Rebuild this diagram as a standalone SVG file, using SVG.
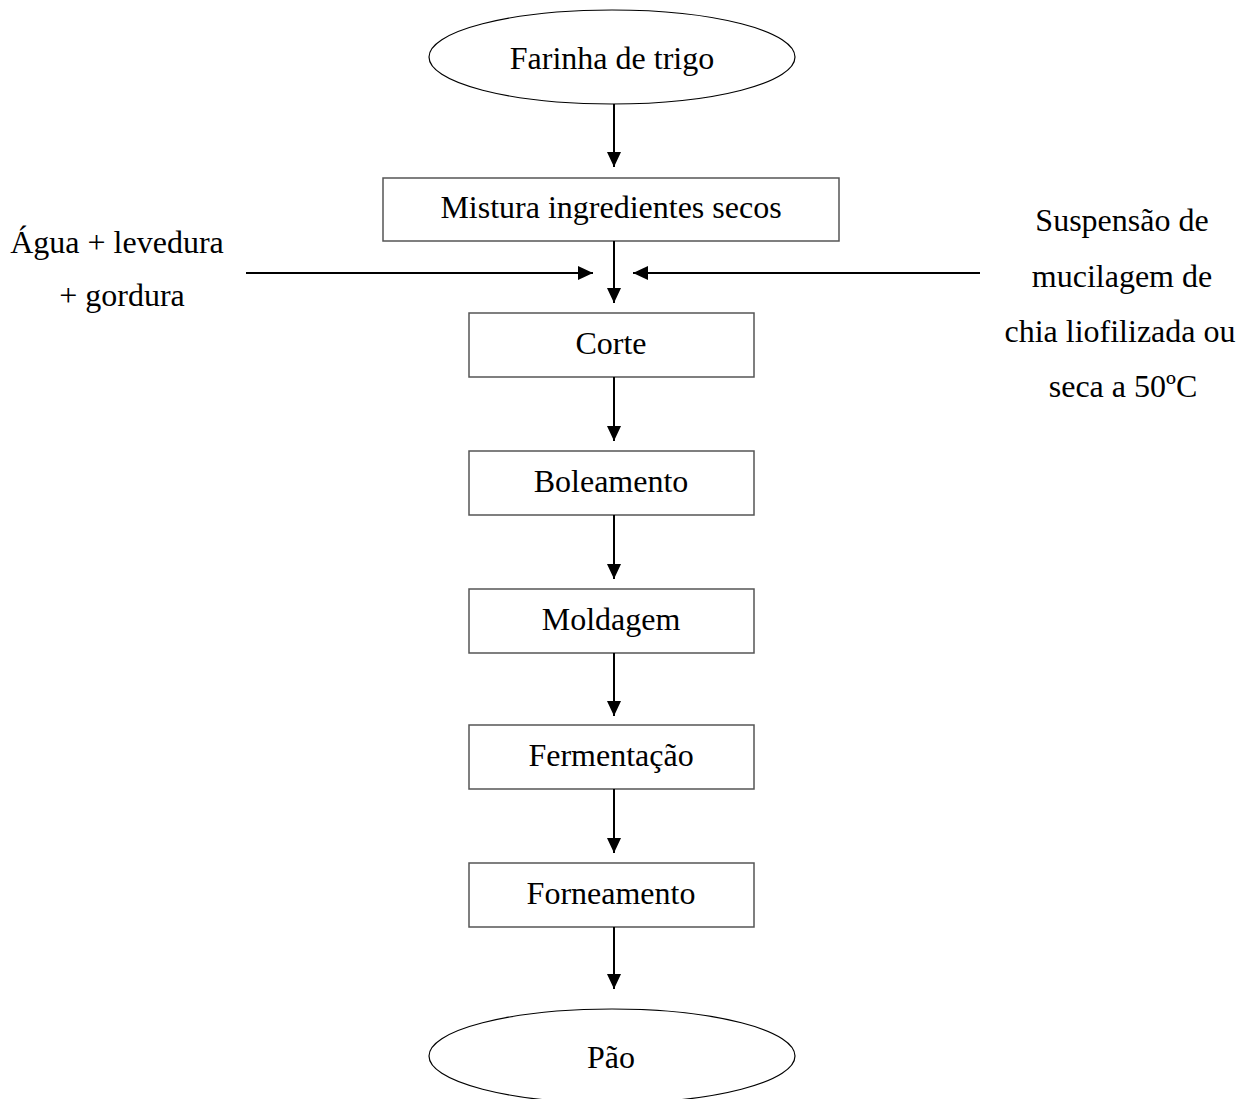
<svg xmlns="http://www.w3.org/2000/svg" width="1254" height="1099" viewBox="0 0 1254 1099">
<style>
text{font-family:"Liberation Serif","Times New Roman",serif;font-size:32px;fill:#000;text-anchor:middle}
.box{fill:#fff;stroke:#555;stroke-width:1.5}
.ell{fill:#fff;stroke:#000;stroke-width:1.2}
.arr{stroke:#000;stroke-width:2;fill:none;marker-end:url(#ah)}
</style>
<defs>
<marker id="ah" markerUnits="userSpaceOnUse" markerWidth="16" markerHeight="16" viewBox="0 0 16 16" refX="15" refY="8" orient="auto">
<path d="M0,1 L15,8 L0,15 Z" fill="#000"/>
</marker>
</defs>
<rect width="1254" height="1099" fill="#fff"/>
<g id="n-farinha"><ellipse class="ell" cx="612" cy="57" rx="183" ry="47"/><text x="612" y="69">Farinha de trigo</text></g>
<g id="n-mistura"><rect class="box" x="383" y="178" width="456" height="63"/><text x="611" y="218">Mistura ingredientes secos</text></g>
<g id="n-agua"><text x="117" y="253">Água + levedura</text><text x="122" y="306">+ gordura</text></g>
<g id="n-suspensao"><text x="1122" y="231">Suspensão de</text><text x="1122" y="287">mucilagem de</text><text x="1120" y="342">chia liofilizada ou</text><text x="1123" y="397">seca a 50ºC</text></g>
<g id="n-corte"><rect class="box" x="469" y="313" width="285" height="64"/><text x="611" y="354">Corte</text></g>
<g id="n-boleamento"><rect class="box" x="469" y="451" width="285" height="64"/><text x="611" y="492">Boleamento</text></g>
<g id="n-moldagem"><rect class="box" x="469" y="589" width="285" height="64"/><text x="611" y="630">Moldagem</text></g>
<g id="n-fermentacao"><rect class="box" x="469" y="725" width="285" height="64"/><text x="611" y="766">Fermentação</text></g>
<g id="n-forneamento"><rect class="box" x="469" y="863" width="285" height="64"/><text x="611" y="904">Forneamento</text></g>
<g id="n-pao"><ellipse class="ell" cx="612" cy="1056" rx="183" ry="47"/><text x="611" y="1068">Pão</text></g>
<g id="connectors">
<line class="arr" x1="614" y1="104" x2="614" y2="167"/>
<line class="arr" x1="614" y1="241" x2="614" y2="303"/>
<line class="arr" x1="246" y1="273" x2="593" y2="273"/>
<line class="arr" x1="980" y1="273" x2="633" y2="273"/>
<line class="arr" x1="614" y1="377" x2="614" y2="441"/>
<line class="arr" x1="614" y1="515" x2="614" y2="579"/>
<line class="arr" x1="614" y1="653" x2="614" y2="716"/>
<line class="arr" x1="614" y1="789" x2="614" y2="853"/>
<line class="arr" x1="614" y1="927" x2="614" y2="989"/>
</g>
</svg>
